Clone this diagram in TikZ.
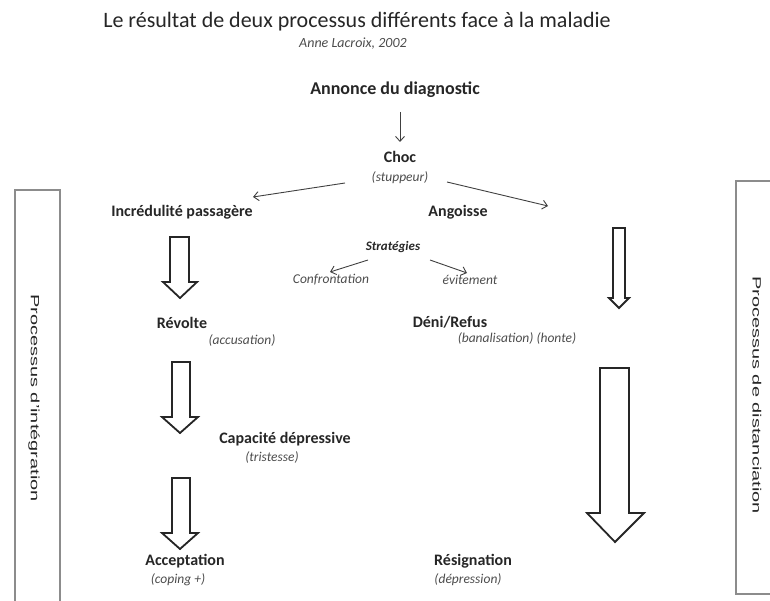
\documentclass[tikz,border=0pt]{standalone}
\usepackage{fontspec}
\usepackage{graphicx}
\setmainfont{Carlito}
\newfontfamily\arialf{Liberation Sans}
\usetikzlibrary{arrows.meta}
\begin{document}
\begin{tikzpicture}[x=1pt,y=-1pt,
  lab/.style={font=\fontsize{16}{18}\selectfont\bfseries, inner sep=0pt, text=black!85},
  sub/.style={font=\fontsize{13.5}{15}\selectfont\itshape, inner sep=0pt, text=black!70},
  thinarrow/.style={draw=black!75, line width=0.9pt, -{Straight Barb[length=5pt,width=9pt]}},
  hollow/.style={draw=black!85, line width=1.8pt, fill=white, line join=miter},
  sidebox/.style={draw=black!45, line width=1.5pt},
  sidelab/.style={font=\arialf\fontsize{20}{22}\selectfont, inner sep=0pt, text=black!85, rotate=-90}]
\useasboundingbox (0,0) rectangle (770,601);

% title
\node[inner sep=0pt, text=black!85, font=\fontsize{22}{24}\selectfont] (title) at (357,22) {Le résultat de deux processus différents face à la maladie};
\node[sub, font=\fontsize{14}{16}\selectfont\itshape] (author) at (353,44) {Anne Lacroix, 2002};

% nodes
\node[lab, font=\fontsize{18}{20}\selectfont\bfseries] (annonce) at (395,90) {Annonce du diagnostic};
\node[lab] (choc) at (400,157) {Choc};
\node[sub] (stup) at (400,178) {(stuppeur)};
\node[lab] (incred) at (182,212) {Incrédulité passagère};
\node[lab] (angoisse) at (458,212) {Angoisse};
\node[lab, font=\fontsize{13}{15}\selectfont\bfseries\itshape] (strat) at (393,247) {Stratégies};
\node[sub] (confr) at (331,280) {Confrontation};
\node[sub] (evit) at (470,280) {évitement};
\node[lab] (revolte) at (182,323) {Révolte};
\node[sub] (accus) at (242,340) {(accusation)};
\node[lab] (deni) at (450,322) {Déni/Refus};
\node[sub] (banal) at (517,338) {(banalisation) (honte)};
\node[lab] (capa) at (285,439) {Capacité dépressive};
\node[sub] (trist) at (272,457) {(tristesse)};
\node[lab] (accept) at (185,561) {Acceptation};
\node[sub] (coping) at (178,580) {(coping +)};
\node[lab] (resign) at (473,561) {Résignation};
\node[sub] (depr) at (468,580) {(dépression)};

% thin arrows
\coordinate (a1s) at (400,112); \coordinate (a1e) at (400,142);
\coordinate (a2s) at (345,183); \coordinate (a2e) at (253,197);
\coordinate (a3s) at (447,182); \coordinate (a3e) at (548,206);
\coordinate (a4s) at (368,260); \coordinate (a4e) at (330,272);
\coordinate (a5s) at (430,260); \coordinate (a5e) at (467,273);
\draw[thinarrow] (a1s) -- (a1e);
\draw[thinarrow] (a2s) -- (a2e);
\draw[thinarrow] (a3s) -- (a3e);
\draw[thinarrow] (a4s) -- (a4e);
\draw[thinarrow] (a5s) -- (a5e);

% hollow arrows (left column)
\draw[hollow] (170,237) -- (189,237) -- (189,282) -- (197,282) -- (180,298) -- (163,282) -- (170,282) -- cycle;
\draw[hollow] (172,362) -- (190,362) -- (190,417) -- (198,417) -- (180,433) -- (162,417) -- (172,417) -- cycle;
\draw[hollow] (172,478) -- (190,478) -- (190,533) -- (198,533) -- (180,549) -- (162,533) -- (172,533) -- cycle;
% hollow arrows (right column)
\draw[hollow] (613,228) -- (625,228) -- (625,298) -- (629,298) -- (619,308) -- (609,298) -- (613,298) -- cycle;
\draw[hollow] (600,368) -- (629,368) -- (629,513) -- (644,513) -- (615,542) -- (587,513) -- (600,513) -- cycle;

% side boxes
\draw[sidebox] (15,601) -- (15,190) -- (60,190) -- (60,601);
\draw[sidebox] (770,181) -- (736,181) -- (736,594) -- (770,594);
\node[sidelab] (integ) at (34,398) {\scalebox{1}[0.6]{Processus d’intégration}};
\node[sidelab] (dist) at (757,395) {\scalebox{1}[0.6]{Processus de distanciation}};
\end{tikzpicture}
\end{document}
